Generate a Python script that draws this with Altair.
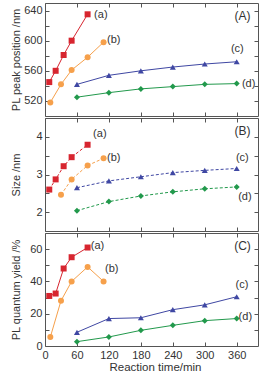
import altair as alt
import pandas as pd

SERIES = ["a", "b", "c", "d"]
COLORS = ["#d7252f", "#f6a04b", "#3f47a3", "#22994c"]
SHAPES = ["square", "circle", "triangle-up", "diamond"]

X_TICKS = [0, 60, 120, 180, 240, 300, 360]

# reaction times (min)
time_a = [8, 20, 35, 50, 80]
time_b = [10, 30, 50, 80, 110]
time_b_size = [30, 50, 80, 110]
time_cd = [60, 120, 180, 240, 300, 360]

# PL peak position (nm)
peak_a = [545, 560, 581, 600, 635]
peak_b = [518, 542, 561, 578, 598]
peak_c = [542, 554, 560, 565, 569, 572]
peak_d = [525, 531, 536, 539, 542, 543]

# particle size (nm)
size_a = [2.60, 2.87, 3.22, 3.46, 3.79]
size_b = [2.46, 2.87, 3.24, 3.43]
size_c = [2.65, 2.83, 2.94, 3.05, 3.11, 3.16]
size_d = [2.04, 2.28, 2.43, 2.54, 2.62, 2.67]

# PL quantum yield (%)
qy_a = [31, 32.5, 48, 55, 61]
qy_b = [5.5, 28, 40, 49, 40]
qy_c = [8.5, 17, 17.5, 22.5, 25.5, 30.5]
qy_d = [2.7, 5.6, 9.7, 12.8, 15.7, 17]

W, H = 213, 113
FONT = "Liberation Sans"
INK = "#333333"
FRAME = "#555555"


def long_table(times, values):
    rows = []
    for s, ts, vs in zip(SERIES, times, values):
        for t, v in zip(ts, vs):
            rows.append({"series": s, "time": t, "value": v})
    return pd.DataFrame(rows)


def tick_axis(orient, offset, values):
    # inward-pointing ticks: an axis of the opposite side moved across the plot
    return alt.Axis(orient=orient, offset=offset, values=values, labels=False,
                    domain=False, grid=False, ticks=True, tickSize=4,
                    tickColor=FRAME, title=None)


def panel(times, values, y_title, y_domain, y_major, y_ticks, dash,
          letter, offsets, bottom):
    df = long_table(times, values)
    ends = df.groupby("series").tail(1).copy()
    ends["label"] = "(" + ends["series"] + ")"

    xs = alt.Scale(domain=[0, 400], nice=False, zero=False)
    ys = alt.Scale(domain=y_domain, nice=False, zero=False)
    color = alt.Color("series:N", scale=alt.Scale(domain=SERIES, range=COLORS),
                      legend=None)
    shape = alt.Shape("series:N", scale=alt.Scale(domain=SERIES, range=SHAPES),
                      legend=None)

    if bottom:
        x_axis = alt.Axis(orient="bottom", values=X_TICKS, ticks=False,
                          domain=False, grid=False, labelPadding=3,
                          labelFlush=False, title="Reaction time/min",
                          titlePadding=1, titleFontSize=11.5, titleX=110,
                          titleAlign="center")
    else:
        x_axis = None
    y_axis = alt.Axis(orient="left", values=y_major, ticks=False, domain=False,
                      grid=False, labelPadding=3, title=y_title, titleX=-29,
                      titleY=H / 2, titleAngle=270, titleAlign="center",
                      titleBaseline="middle")

    line_kw = {"strokeWidth": 1}
    if dash:
        line_kw["strokeDash"] = dash
    lines = alt.Chart(df).mark_line(**line_kw).encode(
        x=alt.X("time:Q", scale=xs, axis=x_axis),
        y=alt.Y("value:Q", scale=ys, axis=y_axis),
        color=color,
        detail="series:N",
    )

    points = alt.Chart(df).mark_point(filled=True, opacity=1, size=36).encode(
        x=alt.X("time:Q", scale=xs, axis=tick_axis("top", -H, X_TICKS)),
        y=alt.Y("value:Q", scale=ys, axis=tick_axis("right", -W, y_ticks)),
        color=color,
        shape=shape,
    )

    texts = []
    for i, s in enumerate(SERIES):
        dx, dy = offsets[i]
        texts.append(
            alt.Chart(ends[ends["series"] == s]).mark_text(
                align="left", baseline="middle", dx=dx, dy=dy,
                fontSize=11, color=INK, font=FONT,
            ).encode(
                x=alt.X("time:Q", scale=xs,
                        axis=tick_axis("bottom", -H, X_TICKS) if i == 0 else None),
                y=alt.Y("value:Q", scale=ys,
                        axis=tick_axis("left", -W, y_ticks) if i == 0 else None),
                text="label:N",
            )
        )

    tag = alt.Chart(pd.DataFrame({"label": [f"({letter})"]})).mark_text(
        align="center", baseline="middle", fontSize=12, color=INK, font=FONT,
    ).encode(x=alt.value(197.5), y=alt.value(13), text="label:N")

    return alt.layer(lines, points, *texts, tag).resolve_axis(
        x="independent", y="independent"
    ).properties(width=W, height=H)


panel_a = panel(
    [time_a, time_b, time_cd, time_cd], [peak_a, peak_b, peak_c, peak_d],
    "PL peak position /nm", [500, 650], [520, 560, 600, 640],
    list(range(520, 641, 20)), None, "A",
    [(6.5, 1), (3.5, -2), (-5.8, -12.5), (5.2, 0)], False,
)
panel_b = panel(
    [time_a, time_b_size, time_cd, time_cd], [size_a, size_b, size_c, size_d],
    "Size /nm", [1.5, 4.5], [2, 3, 4], [2, 2.5, 3, 3.5, 4], [3, 2], "B",
    [(5.5, -10.4), (3.5, 0), (-0.8, -10), (1.5, 9.7)], False,
)
panel_c = panel(
    [time_a, time_b, time_cd, time_cd], [qy_a, qy_b, qy_c, qy_d],
    "PL quantum  yield /%", [0, 70], [0, 20, 40, 60],
    [10, 20, 30, 40, 50, 60], None, "C",
    [(3.2, -1.7), (1.5, -12.7), (-1.1, -12), (1.9, -1.7)], True,
)

chart = alt.vconcat(panel_a, panel_b, panel_c, spacing=0).properties(
    padding={"left": 9, "top": 2, "right": 0, "bottom": 0},
    background="white",
).configure_view(
    stroke=FRAME, strokeWidth=1,
).configure_axis(
    labelFont=FONT, titleFont=FONT, labelFontSize=11, titleFontSize=11,
    labelColor=INK, titleColor=INK, titleFontWeight="normal",
)

chart.save("out.html", embed_options={"renderer": "svg", "actions": False})
